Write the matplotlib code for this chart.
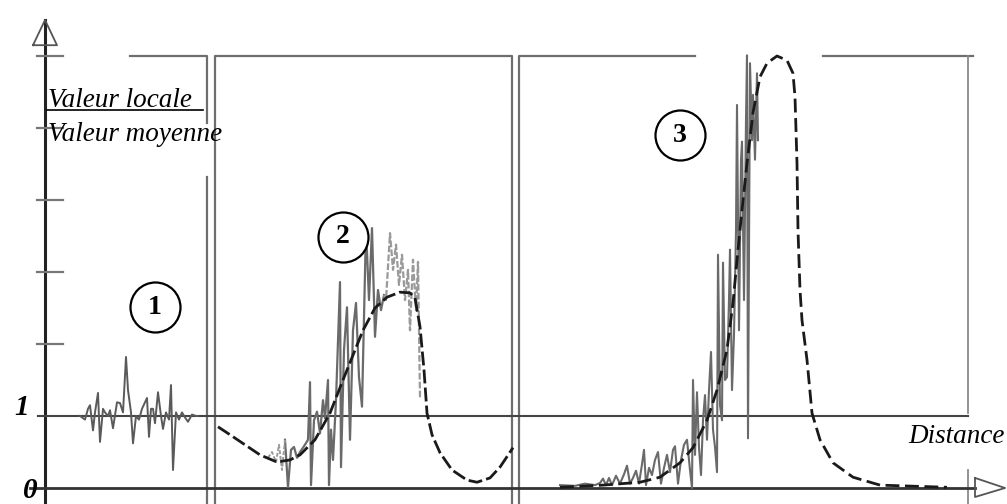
import matplotlib.pyplot as plt
import numpy as np

# distance (arbitrary units) and ratio valeur locale / valeur moyenne

# zone 1 : local value, no mean curve (mean = 1)
x_loc1 = [35, 40, 43, 45, 48, 50, 53, 55, 58, 60, 63, 65, 68, 72, 75, 78, 81, 83, 86,
          88, 91, 94, 97, 102, 104, 106, 108, 110, 113, 116, 118, 121, 124, 126, 128,
          131, 134, 137, 140, 143, 147, 151, 153]
y_loc1 = [1.0, 0.95, 1.1, 1.15, 0.8, 1.05, 1.32, 0.64, 1.1, 1.05, 1.0, 1.08, 0.83,
          1.19, 1.18, 1.05, 1.82, 1.36, 1.05, 0.62, 1.0, 0.95, 1.1, 1.25, 0.71, 1.1,
          1.1, 0.9, 1.33, 1.0, 0.82, 1.05, 0.95, 1.43, 0.25, 1.05, 0.95, 1.05, 0.98,
          0.92, 1.02, 1.0, 1.0]

# zone 2
x_loc2 = [240, 243, 246, 249, 252, 255, 259, 263, 265, 266, 269, 272, 275, 278, 280,
          283, 284, 286, 288, 291, 295, 296, 299, 302, 305, 308, 311, 314, 317, 321,
          324, 327, 330, 333, 336, 339]
y_loc2 = [0.67, 0.01, 0.53, 0.57, 0.42, 0.50, 0.58, 0.67, 1.47, 0.04, 0.94, 1.06,
          0.76, 1.22, 0.97, 1.50, 0.04, 0.81, 0.39, 1.22, 2.86, 0.29, 1.92, 2.51,
          0.67, 2.19, 2.57, 1.54, 1.13, 3.61, 2.61, 3.61, 2.10, 2.75, 2.47, 2.68]
x_loc2b = [339, 341, 345, 348, 351, 354, 357, 360, 363, 365, 368, 371, 373, 375]
y_loc2b = [2.68, 2.61, 3.54, 3.03, 3.38, 2.82, 3.24, 2.61, 3.03, 2.19, 3.17, 2.47,
           3.14, 1.26]
x_loc2c = [223, 227, 231, 234, 237, 240]
y_loc2c = [0.42, 0.50, 0.36, 0.60, 0.25, 0.67]

x_moy2 = [173, 185, 200, 215, 232, 245, 255, 270, 285, 300, 318, 330, 342, 355, 365,
          370, 375, 379, 382, 387, 395, 407, 422, 432, 445, 455, 468]
y_moy2 = [0.85, 0.74, 0.60, 0.46, 0.36, 0.39, 0.46, 0.67, 1.04, 1.57, 2.19, 2.50,
          2.65, 2.72, 2.71, 2.64, 2.24, 1.64, 1.04, 0.74, 0.49, 0.25, 0.11, 0.08,
          0.14, 0.29, 0.56]

# zone 3
x_loc3 = [515, 530, 540, 550, 555, 558, 561, 564, 567, 571, 575, 579, 582, 585, 588,
          591, 594, 597, 599, 601, 604, 607, 610, 613, 616, 619, 622, 625, 628, 630,
          633, 636, 639, 642, 645, 647, 648, 650, 652, 654, 656, 658, 660, 662, 664,
          666, 668, 670, 672, 673, 675, 677, 678, 680, 682, 684, 685, 687, 689, 691,
          692, 694, 696, 697, 699, 701, 702, 703, 705, 707, 708, 710, 712, 713]
y_loc3 = [0.04, 0.03, 0.06, 0.04, 0.07, 0.13, 0.04, 0.14, 0.04, 0.17, 0.06, 0.19,
          0.31, 0.06, 0.14, 0.24, 0.06, 0.33, 0.53, 0.04, 0.28, 0.18, 0.39, 0.50,
          0.06, 0.28, 0.46, 0.22, 0.53, 0.58, 0.06, 0.39, 0.60, 0.67, 0.25, 0.00,
          1.50, 0.46, 1.33, 0.56, 0.18, 0.94, 1.29, 0.67, 1.36, 1.89, 0.81, 0.57,
          0.22, 3.24, 1.15, 0.94, 3.13, 1.50, 1.54, 2.61, 3.31, 1.36, 2.13, 3.58,
          5.32, 2.19, 4.56, 4.81, 2.61, 5.11, 6.01, 0.69, 5.90, 4.83, 5.46, 4.56,
          5.76, 4.83]

x_moy3 = [515, 558, 595, 615, 635, 648, 662, 672, 682, 688, 693, 697, 702, 708, 715,
          722, 732, 742, 748, 750, 752, 753, 755, 757, 762, 767, 775, 788, 808, 835,
          902]
y_moy3 = [0.01, 0.04, 0.08, 0.15, 0.35, 0.56, 0.94, 1.36, 1.92, 2.57, 3.31, 3.86,
          4.51, 5.21, 5.71, 5.90, 6.00, 5.94, 5.76, 5.43, 4.51, 3.58, 2.75, 2.33,
          1.78, 1.04, 0.67, 0.35, 0.15, 0.04, 0.01]

# parois (walls)
x_parois = [162, 170, 467, 474, 923]
y_haut = 6
y_ticks = [2, 3, 4, 5, 6]

fig = plt.figure(figsize=(10.07, 5.04), dpi=100)
ax = fig.add_axes([0, 0, 1, 1])
ax.set_xlim(-45, 962)
ax.set_ylim(-16 / 72, 488 / 72)
ax.axis('off')

bas = -16 / 72
wall_c = '#6e6e6e'
# top profile (gaps where the scan is blank)
ax.plot([85, x_parois[0], x_parois[0]], [y_haut, y_haut, 5.07], color=wall_c, lw=1.6)
ax.plot([x_parois[0], x_parois[0]], [4.32, bas], color=wall_c, lw=1.6)
ax.plot([x_parois[1], x_parois[1], x_parois[2], x_parois[2]], [bas, y_haut, y_haut, bas],
        color=wall_c, lw=1.6)
ax.plot([x_parois[3], x_parois[3], 650], [bas, y_haut, y_haut], color=wall_c, lw=1.6)
ax.plot([778, 928], [y_haut, y_haut], color=wall_c, lw=1.6)
ax.plot([x_parois[4], x_parois[4]], [y_haut, 1.04], color='#8a8a8a', lw=1.3)
ax.plot([x_parois[4], x_parois[4]], [0.25, bas], color='#8a8a8a', lw=1.3)

# axes
ax.plot([0, 0], [bas, 6.5], color='#222222', lw=2.2)
ax.plot([-12, 0, 12, -12], [6.15, 6.5, 6.15, 6.15], color='#555555', lw=1.3)
ax.plot([-15, 930], [0, 0], color='#333333', lw=2.0)
ax.plot([930, 960, 930, 930], [0.14, 0, -0.125, 0.14], color='#555555', lw=1.3)
for t in y_ticks:
    ax.plot([-8, 18], [t, t], color='#777777', lw=1.6)
ax.plot([-7, 923], [1, 1], color='#444444', lw=1.5)

# local values
ax.plot(x_loc1, y_loc1, color='#5a5a5a', lw=1.4)
ax.plot(x_loc2, y_loc2, color='#6a6a6a', lw=1.6)
ax.plot(x_loc2b, y_loc2b, color='#9a9a9a', lw=1.6, ls=(0, (3, 1)))
ax.plot(x_loc2c, y_loc2c, color='#9a9a9a', lw=1.4, ls=(0, (2, 1)))
ax.plot(x_loc3, y_loc3, color='#6a6a6a', lw=1.5)

# mean values
ax.plot(x_moy2, y_moy2, color='#1a1a1a', lw=2.0, ls=(0, (5, 1.5)))
ax.plot(x_moy3, y_moy3, color='#1a1a1a', lw=2.0, ls=(0, (5, 2)))

# labels
serif = ['Liberation Serif', 'DejaVu Serif']
ax.text(3, 5.29, 'Valeur locale', family=serif, style='italic', fontsize=19.5,
        va='baseline', ha='left')
ax.plot([2, 158], [5.25, 5.25], color='black', lw=1.2)
ax.text(3, 4.82, 'Valeur moyenne', family=serif, style='italic', fontsize=19.5,
        va='baseline', ha='left')
ax.text(-23, 1.12, '1', family=serif, style='italic', weight='bold', fontsize=21,
        ha='center', va='center')
ax.text(-15, -0.03, '0', family=serif, style='italic', weight='bold', fontsize=21,
        ha='center', va='center')
ax.text(912, 0.71, 'Distance', family=serif, style='italic', fontsize=19.5,
        ha='center', va='center')

circles = [(110, 2.51, '1'), (298, 3.49, '2'), (635, 4.90, '3')]
for cx, cy, lab in circles:
    ax.plot(cx, cy, marker='o', ms=36, mfc='white', mec='black', mew=1.6)
    ax.text(cx, cy, lab, family=serif, weight='bold', fontsize=20,
            ha='center', va='center')

fig.savefig('out.png', dpi=100)
